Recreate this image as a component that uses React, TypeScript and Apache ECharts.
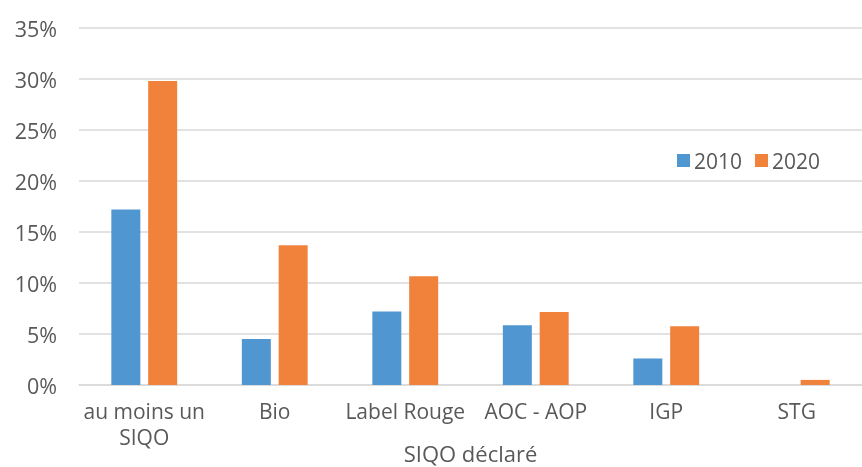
import React, { useEffect, useRef } from "react";
import * as echarts from "echarts";

const categories = ["au moins un\nSIQO", "Bio", "Label Rouge", "AOC - AOP", "IGP", "STG"];
const values2010 = [17.2, 4.5, 7.2, 5.85, 2.6, 0];
const values2020 = [29.8, 13.7, 10.65, 7.15, 5.75, 0.5];
const yTicks = [0, 5, 10, 15, 20, 25, 30, 35];
const xAxisTitle = "SIQO déclaré";

const FONT = "Open Sans";
const TEXT = "#595959";

export default function App() {
  const ref = useRef<HTMLDivElement>(null);
  useEffect(() => {
    const chart = echarts.init(ref.current!, null, { renderer: "svg" });
    chart.setOption({
      animation: false,
      textStyle: { fontFamily: FONT },
      grid: { left: 79, right: 0, top: 28, bottom: 82, outerBoundsMode: "none", containLabel: false },
      legend: {
        left: 672,
        top: 145,
        itemWidth: 13,
        itemHeight: 13,
        itemGap: 13,
        icon: "rect",
        textStyle: { color: TEXT, fontSize: 21, fontFamily: FONT, padding: [0, 0, 0, -1] },
        data: ["2010", "2020"],
      },
      xAxis: {
        type: "category",
        data: categories,
        axisLine: { show: true, lineStyle: { color: "#d9d9d9", width: 1.5 } },
        axisTick: { show: false },
        axisLabel: { color: TEXT, fontSize: 21, fontFamily: FONT, margin: 13, lineHeight: 26, interval: 0 },
        name: xAxisTitle,
        nameLocation: "middle",
        nameGap: 57,
        nameMoveOverlap: false,
        nameTextStyle: { color: TEXT, fontSize: 22, fontFamily: FONT },
      },
      yAxis: {
        type: "value",
        min: yTicks[0],
        max: yTicks[yTicks.length - 1],
        interval: 5,
        axisLine: { show: false },
        axisTick: { show: false },
        splitLine: { lineStyle: { color: "#d9d9d9", width: 1.5 } },
        axisLabel: { color: TEXT, fontSize: 21.5, fontFamily: FONT, margin: 22, formatter: (v: number) => v + "%" },
      },
      series: [
        {
          name: "2010",
          type: "bar",
          data: values2010,
          barWidth: 29,
          barGap: "27%",
          itemStyle: { color: "#5097d2" },
        },
        {
          name: "2020",
          type: "bar",
          data: values2020,
          barWidth: 29,
          itemStyle: { color: "#f0823b" },
        },
      ],
    });
    return () => chart.dispose();
  }, []);
  return <div ref={ref} style={{ position: "fixed", left: 0, top: 0, width: 862, height: 467 }} />;
}
